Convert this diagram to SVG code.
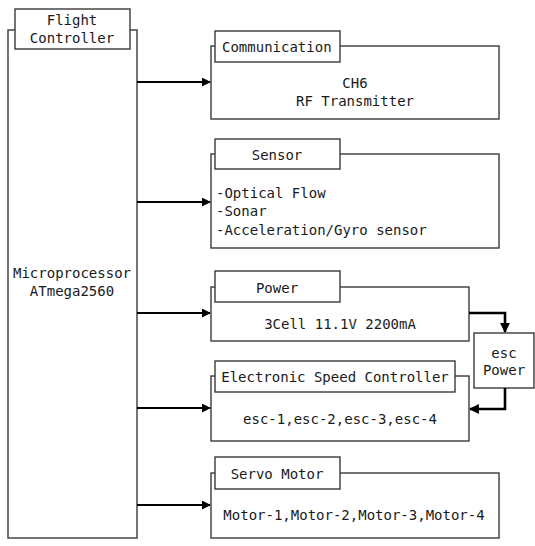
<svg xmlns="http://www.w3.org/2000/svg" width="535" height="546" viewBox="0 0 535 546">
  <style>
    .box { fill: #ffffff; stroke: #3a3a3a; stroke-width: 1.4; }
    .t { font-family: "DejaVu Sans Mono", "Liberation Mono", monospace; font-size: 14px; fill: #1a1a1a; }
    .c { text-anchor: middle; }
    .wire { fill: none; stroke: #000000; stroke-width: 2; }
    .thick { fill: none; stroke: #000000; stroke-width: 2.6; }
  </style>
  <defs>
    <marker id="arrow" viewBox="0 0 10 10" refX="9" refY="5" markerWidth="4.5" markerHeight="4.5" orient="auto" markerUnits="strokeWidth">
      <path d="M0,0 L10,5 L0,10 z" fill="#000000"/>
    </marker>
    <marker id="arrowT" viewBox="0 0 10 10" refX="9" refY="5" markerWidth="3.8" markerHeight="3.8" orient="auto" markerUnits="strokeWidth">
      <path d="M0,0 L10,5 L0,10 z" fill="#000000"/>
    </marker>
  </defs>

  <rect width="535" height="546" fill="#ffffff"/>

  <!-- Flight controller -->
  <g id="flight-controller">
    <rect class="box" x="8" y="30" width="129" height="508"/>
    <rect class="box" x="15" y="9" width="115" height="40"/>
    <text class="t c" x="72" y="25">Flight</text>
    <text class="t c" x="72" y="43">Controller</text>
    <text class="t c" x="72" y="278">Microprocessor</text>
    <text class="t c" x="72" y="296">ATmega2560</text>
  </g>

  <!-- Communication -->
  <g id="communication">
    <rect class="box" x="211" y="46" width="288" height="73"/>
    <rect class="box" x="215" y="31" width="125" height="31"/>
    <text class="t" x="222" y="52">Communication</text>
    <text class="t c" x="355" y="88">CH6</text>
    <text class="t c" x="355" y="106">RF Transmitter</text>
  </g>

  <!-- Sensor -->
  <g id="sensor">
    <rect class="box" x="211" y="154" width="288" height="94"/>
    <rect class="box" x="215" y="139" width="125" height="30"/>
    <text class="t c" x="277" y="160">Sensor</text>
    <text class="t" x="216" y="198">-Optical Flow</text>
    <text class="t" x="216" y="216">-Sonar</text>
    <text class="t" x="216" y="235">-Acceleration/Gyro sensor</text>
  </g>

  <!-- Power -->
  <g id="power">
    <rect class="box" x="211" y="287" width="258" height="54"/>
    <rect class="box" x="215" y="271" width="125" height="31"/>
    <text class="t c" x="277" y="293">Power</text>
    <text class="t c" x="340" y="329">3Cell 11.1V 2200mA</text>
  </g>

  <!-- ESC power -->
  <g id="esc-power">
    <rect class="box" x="474" y="333" width="60" height="55"/>
    <text class="t c" x="504" y="358">esc</text>
    <text class="t c" x="504" y="375">Power</text>
  </g>

  <!-- Electronic speed controller -->
  <g id="esc">
    <rect class="box" x="211" y="376" width="258" height="65"/>
    <rect class="box" x="215" y="361" width="240" height="31"/>
    <text class="t c" x="335" y="382">Electronic Speed Controller</text>
    <text class="t c" x="340" y="424">esc-1,esc-2,esc-3,esc-4</text>
  </g>

  <!-- Servo motor -->
  <g id="servo-motor">
    <rect class="box" x="211" y="473" width="288" height="65"/>
    <rect class="box" x="215" y="457" width="125" height="32"/>
    <text class="t c" x="277" y="479">Servo Motor</text>
    <text class="t c" x="354" y="520">Motor-1,Motor-2,Motor-3,Motor-4</text>
  </g>

  <!-- Connectors -->
  <g id="connectors">
    <line class="wire" x1="137" y1="82" x2="210" y2="82" marker-end="url(#arrow)"/>
    <line class="wire" x1="137" y1="202" x2="210" y2="202" marker-end="url(#arrow)"/>
    <line class="wire" x1="137" y1="313" x2="210" y2="313" marker-end="url(#arrow)"/>
    <line class="wire" x1="137" y1="408" x2="210" y2="408" marker-end="url(#arrow)"/>
    <line class="wire" x1="137" y1="505" x2="210" y2="505" marker-end="url(#arrow)"/>
    <polyline class="thick" points="469,313 505,313 505,332" marker-end="url(#arrowT)"/>
    <polyline class="thick" points="505,388 505,409 470,409" marker-end="url(#arrowT)"/>
  </g>
</svg>
